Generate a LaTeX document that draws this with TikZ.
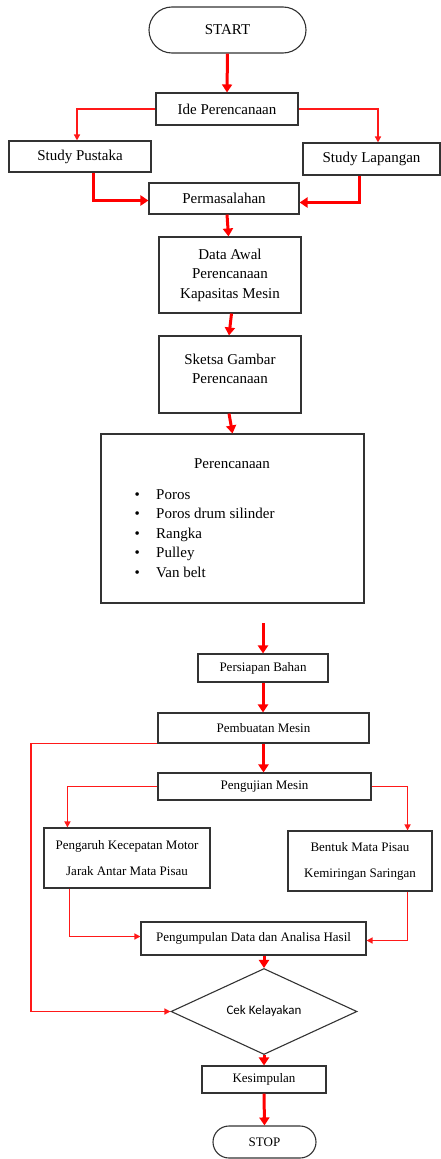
\documentclass[tikz,border=0pt]{standalone}
\usepackage{fontspec}
\setmainfont{Liberation Serif}
\newfontfamily\calib{Carlito}
\usetikzlibrary{shapes.geometric,arrows.meta,calc}
\tikzset{
  box/.style={draw=black!80, line width=1.1pt, fill=white, inner sep=0pt, align=center},
  big/.style={font=\fontsize{15}{19.5}\selectfont},
  small/.style={font=\fontsize{13}{26}\selectfont},
  thickarr/.style={draw=red, line width=3pt, -{Triangle[width=10pt,length=8pt]}},
  thinarr/.style={draw=red!90!white, line width=1.4pt, -{Triangle[width=6pt,length=6pt]}},
}
\begin{document}
\begin{tikzpicture}[x=1pt,y=-1pt]
\useasboundingbox (0,0) rectangle (441,1159);
% nodes
\node[box,big,rounded corners=23pt,minimum width=157pt,minimum height=46pt] (start) at (227.5,30) {START};
\node[box,big,minimum width=142pt,minimum height=32pt] (ide) at (227,109) {Ide Perencanaan};
\node[box,big,minimum width=142pt,minimum height=31pt] (pustaka) at (80,156.5) {Study Pustaka};
\node[box,big,minimum width=137pt,minimum height=32pt] (lapangan) at (371.5,159) {Study Lapangan};
\node[box,big,minimum width=150pt,minimum height=31pt] (perm) at (224,198.5) {Permasalahan};
\node[box,big,minimum width=142pt,minimum height=76pt] (data) at (230,275) {Data Awal\\Perencanaan\\Kapasitas Mesin};
\node[box,minimum width=142pt,minimum height=77pt] (sketsa) at (230,374.5) {};
\node[big,align=center,inner sep=0pt] (sketsatxt) at (230,369) {Sketsa Gambar\\Perencanaan};
\node[box,minimum width=263pt,minimum height=169pt] (perenc) at (232.5,518.5) {};
\node[big,inner sep=0pt] (perenctitle) at (232,464) {Perencanaan};
\node[big,align=left,inner sep=0pt,anchor=west] (plist) at (134.5,533.5) {%
\makebox[21.5pt][l]{\textbullet}Poros\\
\makebox[21.5pt][l]{\textbullet}Poros drum silinder\\
\makebox[21.5pt][l]{\textbullet}Rangka\\
\makebox[21.5pt][l]{\textbullet}Pulley\\
\makebox[21.5pt][l]{\textbullet}Van belt};
\coordinate (gaptop) at (263,623);
\coordinate (fbcorner) at (31,745);
\node[box,small,minimum width=130pt,minimum height=28pt] (persiapan) at (263,668) {Persiapan Bahan};
\node[box,small,minimum width=211pt,minimum height=30pt] (pembuatan) at (263.5,728) {Pembuatan Mesin};
\node[box,small,minimum width=213pt,minimum height=27pt] (pengujian) at (264.5,786.5) {Pengujian Mesin};
\node[box,small,minimum width=166pt,minimum height=60pt] (pengaruh) at (127,858) {Pengaruh Kecepatan Motor\\Jarak Antar Mata Pisau};
\node[box,small,minimum width=144pt,minimum height=60pt] (bentuk) at (360,861) {Bentuk Mata Pisau\\Kemiringan Saringan};
\node[box,small,minimum width=225pt,minimum height=33pt] (pengumpulan) at (253.5,938.5) {Pengumpulan Data dan Analisa Hasil};
\node[box,diamond,minimum width=186pt,minimum height=47pt,font=\calib\fontsize{13}{15}\selectfont] (cek) at (264,1011.5) {Cek Kelayakan};
\node[box,small,minimum width=124pt,minimum height=27pt] (kesimpulan) at (264,1079.5) {Kesimpulan};
\node[box,small,rounded corners=16pt,minimum width=103pt,minimum height=32pt] (stop) at (264.5,1142) {STOP};
% connectors
\draw[thickarr] (start.south) -- (ide.north);
\draw[thinarr] (ide.west) -| ($(pustaka.north)+(-3,0)$);
\draw[thinarr] (ide.east) -| ($(lapangan.north)+(6.5,0)$);
\draw[thickarr] ($(pustaka.south)+(13,0)$) |- ($(perm.west)+(0,2)$);
\draw[thickarr] ($(lapangan.south)+(-12.5,0)$) |- ($(perm.east)+(0,4)$);
\draw[thickarr] ($(perm.south)+(3,0)$) -- ($(data.north)+(-1.5,0)$);
\draw[thickarr] ($(data.south)+(1.5,0)$) -- ($(sketsa.north)+(-1,0)$);
\draw[thickarr] ($(sketsa.south)+(-1,0)$) -- ($(perenc.north)+(0,0)$);
\draw[thickarr] (gaptop) -- (persiapan.north);
\draw[thickarr] (persiapan.south) -- (persiapan.south |- pembuatan.north);
\draw[thickarr] (pembuatan.south) -- (pembuatan.south |- pengujian.north);
\draw[thinarr] (pembuatan.south west) -- (fbcorner |- pembuatan.south west) |- (cek.west);
\draw[thinarr] (pengujian.west) -| ($(pengaruh.north west)+(24,0)$);
\draw[thinarr] (pengujian.east) -| ($(bentuk.north east)+(-25,0)$);
\draw[thinarr] ($(pengaruh.south west)+(26,0)$) |- ($(pengumpulan.west)+(0,-2)$);
\draw[thinarr] ($(bentuk.south east)+(-25,0)$) |- ($(pengumpulan.east)+(0,2)$);
\draw[thickarr] (cek.north |- pengumpulan.south) -- (cek.north);
\draw[thickarr] (cek.south) -- (kesimpulan.north);
\draw[thickarr] (kesimpulan.south) -- (stop.north);
\end{tikzpicture}
\end{document}
